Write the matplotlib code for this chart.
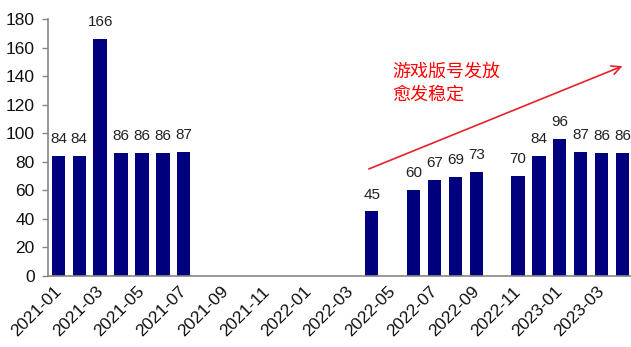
import numpy as np
import pandas as pd
import matplotlib
matplotlib.use("Agg")
import matplotlib.pyplot as plt
from matplotlib.transforms import ScaledTranslation

plt.rcParams['font.family'] = ['Liberation Sans', 'Noto Sans CJK SC', 'DejaVu Sans']

# Monthly game licence approvals, 2021-01 .. 2023-04 (NaN = no batch that month)
months = [p.strftime('%Y-%m') for p in pd.period_range('2021-01', '2023-04', freq='M')]
approvals = [84, 84, 166, 86, 86, 86, 87,
             np.nan, np.nan, np.nan, np.nan, np.nan, np.nan, np.nan, np.nan,
             45, np.nan, 60, 67, 69, 73, np.nan,
             70, 84, 96, 87, 86, 86]
y_ticks = [0, 20, 40, 60, 80, 100, 120, 140, 160, 180]
note_text = '游戏版号发放\n愈发稳定'

bar_color = '#00007f'
axis_color = '#868686'
red = '#e8202a'

fig = plt.figure(figsize=(6.31, 3.47), dpi=100)
ax = fig.add_axes([0.076, 0.206, 0.927, 0.739])

x = np.arange(len(months))
vals = np.array(approvals, dtype=float)
ax.bar(x, np.nan_to_num(vals), width=0.64, color=bar_color, zorder=2)

for xi, v in zip(x, vals):
    if not np.isnan(v):
        ax.annotate(f'{int(v)}', (xi, v), xytext=(0, 7), textcoords='offset points',
                    ha='center', va='bottom', fontsize=11, color='#222222')

ax.set_xlim(-0.5, len(months) - 0.5)
ax.set_ylim(0, 180)
ax.set_yticks(y_ticks)
ax.tick_params(axis='y', labelsize=12.5, length=4.5, width=1, color=axis_color, pad=5,
               labelcolor='#111111')

ax.set_xticks(x[::2])
ax.set_xticklabels(months[::2], rotation=45, ha='right', fontsize=12.5, color='#111111')
ax.tick_params(axis='x', length=0, pad=6)
shift = ScaledTranslation(4 / 72, 0, fig.dpi_scale_trans)
for lbl in ax.get_xticklabels():
    lbl.set_transform(lbl.get_transform() + shift)

for side in ('top', 'right'):
    ax.spines[side].set_visible(False)
for side in ('left', 'bottom'):
    ax.spines[side].set_color(axis_color)
    ax.spines[side].set_linewidth(1.2)

# Trend arrow and annotation
ax.annotate('', xy=(27.0, 147), xytext=(14.86, 74.8),
            arrowprops=dict(arrowstyle='->', color=red, lw=1.2, mutation_scale=16,
                            shrinkA=0, shrinkB=0))
ax.text(16.0, 149, note_text, color='#ff0000', fontsize=13, ha='left', va='top',
        family=['Noto Sans CJK SC', 'DejaVu Sans'], linespacing=1.35)

fig.savefig('out.png', dpi=100)
